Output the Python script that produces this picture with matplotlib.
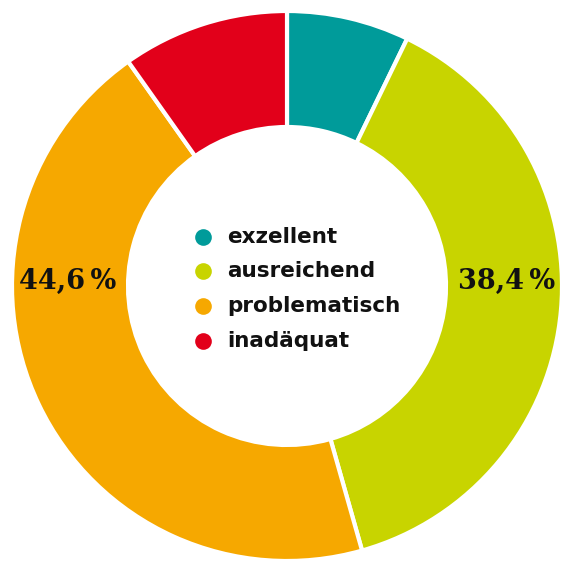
import matplotlib
matplotlib.use("Agg")
import matplotlib.pyplot as plt

categories = ["exzellent", "ausreichend", "problematisch", "inadäquat"]
values = [7.2, 38.4, 44.6, 9.8]
colors = ["#009b9a", "#c8d400", "#f6a800", "#e2001a"]
labels = ["", "38,4\u2009%", "44,6\u2009%", ""]

W, H = 566, 562
fig = plt.figure(figsize=(W / 100, H / 100), dpi=100)
ax = fig.add_axes([0, 0, 1, 1])

cx, cy, R = 287, H - 286, 275
inner = 159
wedges, _ = ax.pie(values, colors=colors, startangle=90, counterclock=False,
                   center=(cx, cy), radius=R, frame=True,
                   wedgeprops=dict(width=R - inner, edgecolor="white", linewidth=3))
ax.set_xlim(0, W)
ax.set_ylim(0, H)
ax.set_aspect("equal")
ax.axis("off")

# value labels
ax.text(507, H - 281, labels[1], ha="center", va="center", fontsize=19.5,
        fontweight="heavy", family="DejaVu Serif", color="#111111")
ax.text(68, H - 281, labels[2], ha="center", va="center", fontsize=19.5,
        fontweight="heavy", family="DejaVu Serif", color="#111111")

# legend in the centre
ys = [237, 271, 306, 341]
for cat, col, y in zip(categories, colors, ys):
    ax.plot([203], [H - y], "o", color=col, markersize=12, markeredgewidth=0)
    ax.text(227, H - y, cat, ha="left", va="center", fontsize=15.5,
            fontweight="bold", family="DejaVu Sans", color="#111111")

fig.savefig("out.png", dpi=100)
